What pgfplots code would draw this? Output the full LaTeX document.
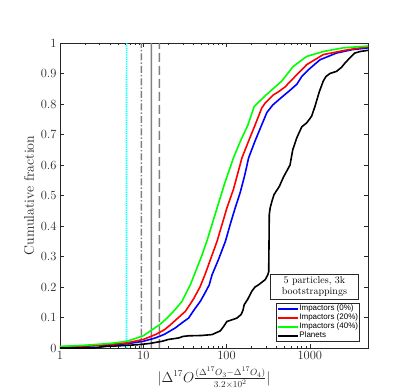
\documentclass[border=0pt]{standalone}
\usepackage{fontspec}
\usepackage{pgfplots}
\pgfplotsset{compat=1.18}
\newfontfamily\legendfont{Liberation Sans}
\definecolor{axgray}{rgb}{0.15,0.15,0.15}
\definecolor{vgray}{rgb}{0.5,0.5,0.5}
\definecolor{vcyan}{rgb}{0,1,1}

\begin{document}
\begin{tikzpicture}
\begin{axis}[
    scale only axis,
    width=308pt,
    height=305pt,
    xmode=log,
    xmin=1, xmax=5000,
    ymin=0, ymax=1,
    xtick={1,10,100,1000},
    xticklabels={1,10,100,1000},
    ytick={0,0.1,0.2,0.3,0.4,0.5,0.6,0.7,0.8,0.9,1},
    yticklabels={0,0.1,0.2,0.3,0.4,0.5,0.6,0.7,0.8,0.9,1},
    tick align=inside,
    major tick length=4pt,
    minor tick length=2pt,
    axis line style={axgray, line width=0.7pt},
    every tick/.append style={axgray, line width=0.5pt},
    tick label style={axgray, font=\fontsize{12.5}{14}\selectfont},
    xlabel={$\Bigl|\Delta^{17}O\frac{(\Delta^{17}O_3-\Delta^{17}O_4)}{3.2\times10^2}\Bigr|$},
    xlabel style={at={(axis description cs:0.5,-0.097)}, anchor=center, font=\fontsize{13.5}{15}\selectfont, axgray},
    ylabel={Cumulative fraction},
    ylabel style={at={(axis description cs:-0.1,0.5)}, anchor=center, font=\fontsize{14}{16}\selectfont, axgray},
    legend cell align=left,
    legend image code/.code={\draw[#1] (0pt,0pt) -- (20pt,0pt);},
    legend style={
        at={(rel axis cs:0.974,0.021)}, anchor=south east,
        font=\legendfont\fontsize{8}{8.7}\selectfont,
        draw=axgray, line width=0.6pt, fill=white,
        inner sep=1pt, row sep=0pt,
        nodes={inner sep=0.6pt, text height=6pt, text depth=1.8pt},
    },
  ]
  % vertical reference lines (x nudged by a hair so the path has width)
  \addplot[forget plot, vcyan, line width=1.6pt, dash pattern=on 1pt off 0.8pt] coordinates {(6.29,0) (6.3,1)};
  \addplot[forget plot, vgray, line width=1.4pt, dash pattern=on 7pt off 2pt on 1.5pt off 2pt] coordinates {(9.49,0) (9.5,1)};
  \addplot[forget plot, vgray, line width=1.6pt] coordinates {(12.49,0) (12.5,1)};
  \addplot[forget plot, vgray, line width=1.4pt, dash pattern=on 9pt off 4pt] coordinates {(15.59,0) (15.6,1)};

  \addplot[blue, line width=1.6pt] coordinates {
    (1,0.003) (2,0.006) (4,0.010) (6.4,0.014) (10,0.022) (14,0.033)
    (18,0.045) (24.3,0.066) (30,0.085) (35,0.098) (42,0.13) (48.4,0.153)
    (55,0.18) (62,0.207) (67,0.24) (80,0.29) (97,0.35) (112,0.41)
    (127,0.459) (146,0.51) (165,0.565) (184,0.623) (221,0.68) (265,0.732)
    (305,0.772) (360,0.797) (450,0.82) (579,0.845) (700,0.865) (800,0.89)
    (960,0.912) (1325,0.945) (2090,0.967) (3200,0.978) (5000,0.984)
  };
  \addlegendentry{Impactors (0\%)}
  \addplot[red, line width=1.6pt] coordinates {
    (1,0.004) (2,0.007) (4,0.012) (6.4,0.017) (10,0.028) (14,0.044)
    (18,0.06) (21.2,0.076) (26,0.098) (32,0.12) (40,0.16) (48,0.2)
    (55,0.24) (77,0.35) (101,0.459) (121,0.52) (153,0.623) (185,0.68)
    (221,0.732) (265,0.787) (291,0.803) (366,0.83) (420,0.84) (500,0.855)
    (665,0.89) (918,0.929) (1452,0.962) (2760,0.977) (5000,0.988)
  };
  \addlegendentry{Impactors (20\%)}
  \addplot[green, line width=1.6pt] coordinates {
    (1,0.005) (2,0.009) (4,0.015) (6.4,0.022) (10,0.04) (12.8,0.06)
    (16,0.078) (19.3,0.098) (24,0.125) (29.2,0.153) (36.7,0.207) (41,0.24)
    (50,0.3) (58,0.35) (77,0.459) (95,0.54) (121,0.623) (146,0.677)
    (180,0.73) (215,0.792) (300,0.83) (380,0.855) (460,0.875) (632,0.923)
    (918,0.956) (1452,0.972) (2500,0.984) (5000,0.99)
  };
  \addlegendentry{Impactors (40\%)}
  \addplot[black, line width=1.6pt] coordinates {
    (1,0) (2.5,0) (3.5,0.005) (5,0.007) (8.8,0.011) (12,0.015) (16.8,0.022)
    (20,0.028) (26.7,0.033) (30,0.038) (35,0.04) (50,0.041) (67,0.044)
    (75,0.05) (84,0.056) (92,0.07) (101,0.087) (115,0.092) (133,0.098)
    (150,0.11) (158,0.125) (163,0.142) (180,0.16) (201,0.186) (220,0.2)
    (242,0.207) (291,0.224) (313,0.24) (321,0.25) (324,0.35) (326,0.437)
    (334,0.459) (350,0.48) (372,0.503) (431,0.53) (482,0.56) (579,0.6)
    (624,0.65) (700,0.69) (800,0.725) (918,0.738) (1052,0.76) (1153,0.792)
    (1300,0.84) (1450,0.875) (1563,0.89) (1745,0.9) (2090,0.907) (2400,0.92)
    (2640,0.934) (3000,0.95) (3470,0.967) (4000,0.972) (5000,0.976)
  };
  \addlegendentry{Planets}

  \node[draw=axgray, line width=0.7pt, fill=white, align=center,
        font=\fontsize{10}{11}\selectfont, inner sep=1.5pt,
        minimum width=88pt, minimum height=25pt]
        at (rel axis cs:0.826,0.2) {5 particles, 3k\\bootstrappings};
\end{axis}
\pgfresetboundingbox
\path[use as bounding box] (-60pt,-43pt) rectangle (355pt,348pt);
\end{tikzpicture}
\end{document}
